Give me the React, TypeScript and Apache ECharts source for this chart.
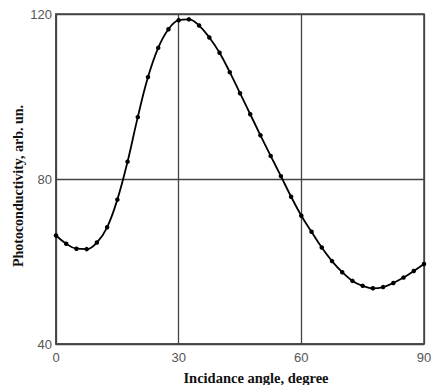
import React, { useEffect, useRef } from "react";
import * as echarts from "echarts";

const angles = [0, 2.5, 5, 7.5, 10, 12.5, 15, 17.5, 20, 22.5, 25, 27.5, 30, 32.5, 35, 37.5, 40, 42.5, 45, 47.5, 50, 52.5, 55, 57.5, 60, 62.5, 65, 67.5, 70, 72.5, 75, 77.5, 80, 82.5, 85, 87.5, 90];
const photo = [66.3, 64.3, 63.1, 63.0, 64.6, 68.3, 75.0, 84.2, 95.0, 104.7, 111.8, 116.3, 118.5, 118.7, 117.2, 114.3, 110.6, 105.9, 100.8, 95.7, 90.6, 85.6, 80.7, 75.7, 71.1, 67.2, 63.4, 60.1, 57.4, 55.3, 54.1, 53.5, 53.8, 54.8, 56.1, 57.7, 59.4];
const xTicks = [0, 30, 60, 90];
const yTicks = [40, 80, 120];
const xTitle = "Incidance angle, degree";
const yTitle = "Photoconductivity, arb. un.";

export default function App() {
  const ref = useRef<HTMLDivElement>(null);
  useEffect(() => {
    if (!ref.current) return;
    const chart = echarts.init(ref.current, null, { renderer: "svg" });
    chart.setOption({
      animation: false,
      backgroundColor: "#fff",
      grid: { left: 56, top: 14, width: 368, height: 330, show: true, borderColor: "#444", borderWidth: 1.5, backgroundColor: "transparent" },
      xAxis: {
        type: "value",
        min: xTicks[0],
        max: xTicks[xTicks.length - 1],
        interval: 30,
        axisLine: { show: true, lineStyle: { color: "#444", width: 1.5 } },
        axisTick: { show: false },
        splitLine: { show: true, lineStyle: { color: "#444", width: 1.3 } },
        axisLabel: { color: "#555", fontFamily: "Liberation Sans", fontSize: 13, margin: 7 },
      },
      yAxis: {
        type: "value",
        min: yTicks[0],
        max: yTicks[yTicks.length - 1],
        interval: 40,
        axisLine: { show: true, lineStyle: { color: "#444", width: 1.5 } },
        axisTick: { show: false },
        splitLine: { show: true, lineStyle: { color: "#444", width: 1.3 } },
        axisLabel: { color: "#555", fontFamily: "Liberation Sans", fontSize: 13, margin: 4 },
      },
      graphic: [
        {
          type: "text",
          x: 256,
          y: 378,
          style: { text: xTitle, font: "bold 14.5px 'Liberation Serif'", fill: "#111", align: "center", verticalAlign: "middle" },
        },
        {
          type: "text",
          x: 18,
          y: 186,
          rotation: Math.PI / 2,
          style: { text: yTitle, font: "bold 14px 'Liberation Serif'", fill: "#111", align: "center", verticalAlign: "middle" },
        },
      ],
      series: [
        {
          type: "line",
          data: angles.map((a, i) => [a, photo[i]]),
          smooth: 0.4,
          symbol: "circle",
          symbolSize: 4.5,
          itemStyle: { color: "#000" },
          lineStyle: { color: "#000", width: 1.8 },
        },
      ],
    });
    return () => chart.dispose();
  }, []);
  return <div ref={ref} style={{ width: 438, height: 385, position: "absolute", left: 0, top: 0 }} />;
}
